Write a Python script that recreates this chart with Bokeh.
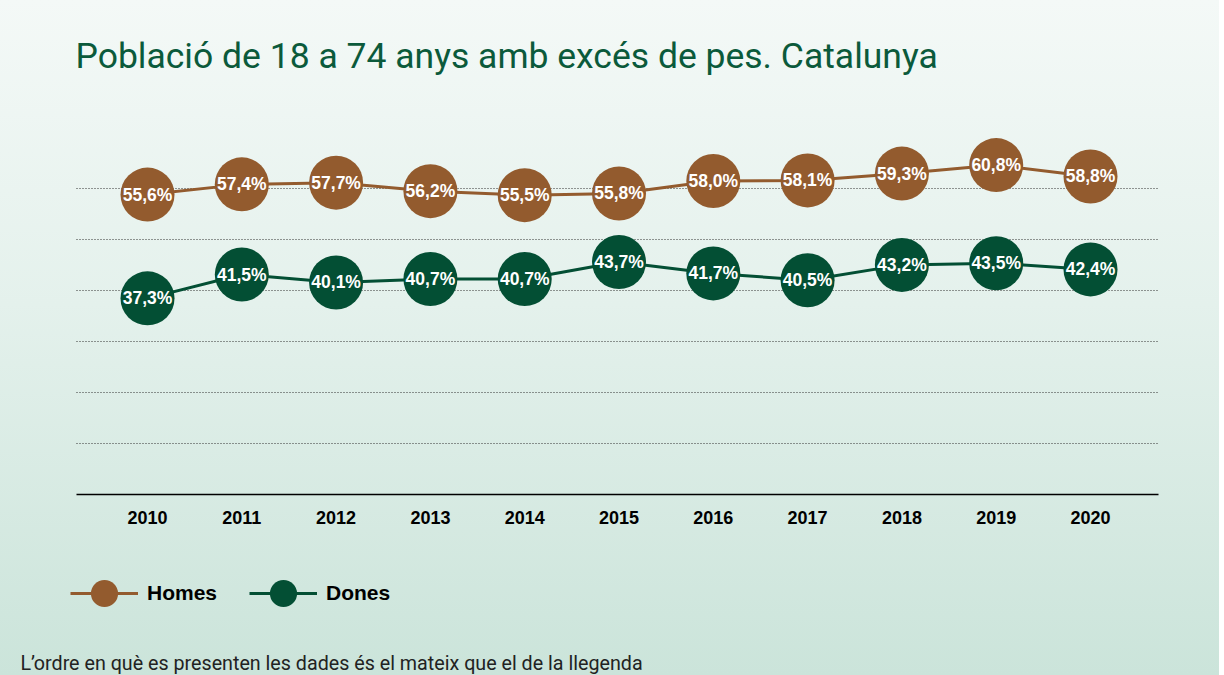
from bokeh.plotting import figure
from bokeh.models import ColumnDataSource, FixedTicker, Label, Legend, LegendItem
from bokeh.core.properties import value
from bokeh.embed import file_html
from bokeh.resources import INLINE

years = [2010, 2011, 2012, 2013, 2014, 2015, 2016, 2017, 2018, 2019, 2020]
homes = [55.6, 57.4, 57.7, 56.2, 55.5, 55.8, 58.0, 58.1, 59.3, 60.8, 58.8]
dones = [37.3, 41.5, 40.1, 40.7, 40.7, 43.7, 41.7, 40.5, 43.2, 43.5, 42.4]
grid_values = [11.7, 20.7, 29.7, 38.7, 47.7, 56.7]
axis_value = 2.7
chart_x_bounds = (2009.247, 2020.721)

title_text = "Població de 18 a 74 anys amb excés de pes. Catalunya"
note_text = "L’ordre en què es presenten les dades és el mateix que el de la llegenda"

BROWN = "#935b2e"
GREEN = "#034f34"
TITLE_GREEN = "#0b5a3b"

def fmt(v):
    return f"{v:.1f}".replace(".", ",") + "%"

src_h = ColumnDataSource(dict(x=years, y=homes, t=[fmt(v) for v in homes]))
src_d = ColumnDataSource(dict(x=years, y=dones, t=[fmt(v) for v in dones]))

p = figure(width=1219, height=675, output_backend="svg", toolbar_location=None,
           x_range=(2008.441, 2021.368), y_range=(-29.22, 89.83),
           min_border_left=0, min_border_right=0, min_border_top=0, min_border_bottom=0)
p.styles = {"background": "linear-gradient(180deg, #f4f9f7 0%, #e4f1ec 45%, #cbe4da 100%)"}
p.background_fill_color = None
p.border_fill_color = None
p.outline_line_color = None

p.yaxis.visible = False
p.ygrid.ticker = FixedTicker(ticks=grid_values)
p.ygrid.cross_bounds = chart_x_bounds
p.ygrid.grid_line_color = "#333333"
p.ygrid.grid_line_dash = "1 2"
p.ygrid.grid_line_width = 1
p.xgrid.visible = False

p.xaxis.fixed_location = axis_value
p.xaxis.bounds = chart_x_bounds
p.xaxis.ticker = FixedTicker(ticks=years)
p.xaxis.axis_line_color = "black"
p.xaxis.axis_line_width = 1.5
p.xaxis.major_tick_line_color = None
p.xaxis.minor_tick_line_color = None
p.xaxis.major_label_text_font = "Liberation Sans"
p.xaxis.major_label_text_font_style = "bold"
p.xaxis.major_label_text_font_size = "18px"
p.xaxis.major_label_text_color = "black"
p.xaxis.major_label_standoff = 10

lh = p.line("x", "y", source=src_h, line_color=BROWN, line_width=3)
ch = p.scatter("x", "y", source=src_h, size=54, fill_color=BROWN, line_color=None)
ld = p.line("x", "y", source=src_d, line_color=GREEN, line_width=3)
cd = p.scatter("x", "y", source=src_d, size=54, fill_color=GREEN, line_color=None)

for src in (src_h, src_d):
    p.text("x", "y", text="t", source=src, text_color="white", text_font=value("Liberation Sans"),
           text_font_style="bold", text_font_size="17.5px", text_align="center", text_baseline="middle")

legend = Legend(items=[LegendItem(label="Homes", renderers=[lh, ch]),
                       LegendItem(label="Dones", renderers=[ld, cd])],
                orientation="horizontal", location=(70, 48),
                glyph_width=68, glyph_height=68, label_standoff=9, spacing=32,
                padding=0, margin=0, border_line_color=None, background_fill_color=None,
                label_text_font="Liberation Sans", label_text_font_style="bold",
                label_text_font_size="21px", label_text_color="black")
p.add_layout(legend, "center")

p.add_layout(Label(x=75, y=620, x_units="screen", y_units="screen", text=title_text,
                   text_font="Roboto", text_font_size="35.5px", text_color=TITLE_GREEN,
                   text_baseline="alphabetic"))
p.add_layout(Label(x=20, y=12, x_units="screen", y_units="screen", text=note_text,
                   text_font="Roboto", text_font_size="19.7px", text_color="#222222",
                   text_baseline="alphabetic"))

open("out.html", "w").write(file_html(p, INLINE))
